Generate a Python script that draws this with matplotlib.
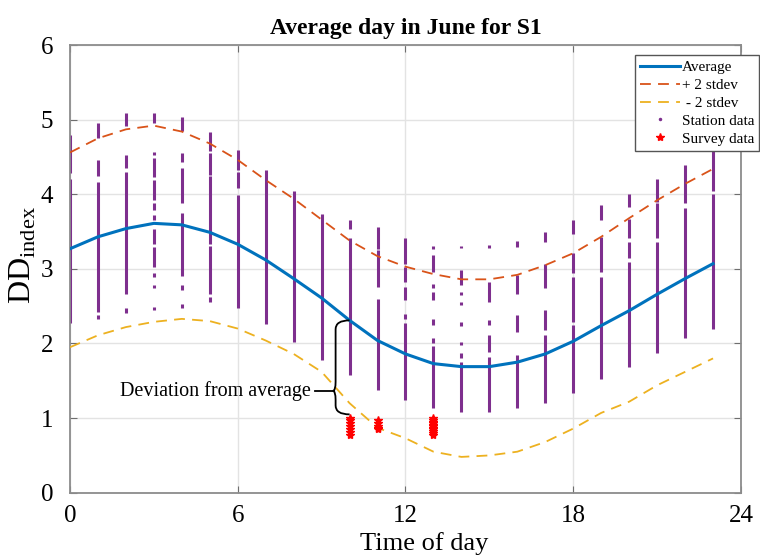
import numpy as np
import matplotlib
matplotlib.use("Agg")
import matplotlib.pyplot as plt
from matplotlib.lines import Line2D
from matplotlib.path import Path
from matplotlib.patches import PathPatch

plt.rcParams['font.family'] = ['Liberation Serif', 'DejaVu Serif']
plt.rcParams['mathtext.fontset'] = 'custom'
plt.rcParams['mathtext.rm'] = 'Liberation Serif'

hours = np.arange(24)
average = [3.27, 3.43, 3.54, 3.61, 3.59, 3.49, 3.33, 3.12, 2.87, 2.61, 2.31, 2.04,
           1.86, 1.73, 1.69, 1.69, 1.75, 1.86, 2.03, 2.24, 2.44, 2.66, 2.87, 3.07]
plus2 = [4.56, 4.75, 4.87, 4.92, 4.84, 4.68, 4.46, 4.19, 3.94, 3.66, 3.38, 3.17,
         3.03, 2.93, 2.86, 2.86, 2.92, 3.05, 3.21, 3.43, 3.68, 3.92, 4.14, 4.34]
minus2 = [1.95, 2.11, 2.22, 2.29, 2.33, 2.30, 2.20, 2.04, 1.86, 1.62, 1.20, 0.87,
          0.73, 0.55, 0.48, 0.50, 0.55, 0.68, 0.86, 1.07, 1.22, 1.44, 1.62, 1.80]

# station data per hour as (low, high) runs of points
station = [
    [(2.27, 4.20), (4.28, 4.79)],
    [(2.33, 2.38), (2.42, 4.16), (4.25, 4.46), (4.75, 4.96)],
    [(2.41, 2.47), (2.67, 4.30), (4.35, 4.53), (4.91, 5.09)],
    [(2.45, 2.49), (2.74, 2.78), (2.89, 2.94), (3.03, 3.29), (3.34, 3.54), (3.65, 3.72),
     (3.79, 3.88), (3.92, 4.19), (4.23, 4.48), (4.52, 4.57), (4.95, 5.09)],
    [(2.47, 2.53), (2.72, 2.78), (2.90, 3.75), (3.88, 4.35), (4.43, 4.55), (4.85, 5.03)],
    [(2.55, 2.62), (2.67, 3.31), (3.33, 4.24), (4.26, 4.55), (4.58, 4.84)],
    [(2.47, 3.99), (4.08, 4.30), (4.32, 4.59)],
    [(2.26, 4.32)],
    [(2.02, 4.04)],
    [(1.78, 3.74)],
    [(1.58, 3.41), (3.54, 3.65)],
    [(1.38, 2.60), (2.76, 3.25), (3.27, 3.56)],
    [(1.24, 2.27), (2.33, 2.40), (2.58, 2.76), (2.83, 3.03), (3.07, 3.41)],
    [(1.13, 1.96), (2.00, 2.07), (2.25, 2.33), (2.58, 2.69), (2.74, 2.80), (2.96, 3.19), (3.27, 3.31)],
    [(1.08, 1.75), (1.80, 1.87), (1.98, 2.02), (2.23, 2.29), (2.51, 2.56), (2.65, 2.69),
     (2.78, 2.98), (3.28, 3.31)],
    [(1.08, 1.82), (1.89, 2.11), (2.25, 2.31), (2.56, 2.83), (3.28, 3.32)],
    [(1.13, 1.84), (2.16, 2.38), (2.67, 2.92), (3.29, 3.38)],
    [(1.20, 2.11), (2.18, 2.45), (2.75, 3.07), (3.36, 3.50)],
    [(1.34, 2.25), (2.29, 2.89), (2.94, 3.21), (3.47, 3.65)],
    [(1.53, 2.89), (2.96, 3.43), (3.65, 3.85)],
    [(1.69, 3.09), (3.14, 3.36), (3.41, 3.67), (3.83, 4.01)],
    [(1.87, 3.36), (3.41, 3.88), (3.90, 4.21)],
    [(2.07, 3.81), (3.88, 4.39)],
    [(2.20, 4.00), (4.05, 4.70)],
]

survey_hours = [10] * 7 + [11] * 5 + [13] * 11
survey_vals = [1.00, 0.97, 0.93, 0.90, 0.86, 0.82, 0.78,
               0.97, 0.93, 0.90, 0.87, 0.85,
               1.00, 0.97, 0.95, 0.93, 0.91, 0.89, 0.87, 0.85, 0.83, 0.80, 0.77]

c_avg, c_up, c_lo, c_st = '#0072BD', '#D95319', '#EDB120', '#7E2F8E'

fig = plt.figure(figsize=(7.6, 5.56), dpi=100)
ax = fig.add_axes([0.0921, 0.1138, 0.8829, 0.8052])

for h, runs in zip(hours, station):
    for lo, hi in runs:
        ax.vlines(h, lo, hi, colors=c_st, lw=2.2, zorder=2)

ax.plot(hours, average, color=c_avg, lw=2.2, zorder=3)
ax.plot(hours, plus2, color=c_up, lw=1.3, dashes=(6, 4), zorder=3)
ax.plot(hours, minus2, color=c_lo, lw=1.3, dashes=(6, 4), zorder=3)
ax.plot(survey_hours, survey_vals, ls='none', marker='*', color='red', ms=6, zorder=4)

# curly brace showing the deviation at hour 10
ytop = average[10]
ybot = max(v for h, v in zip(survey_hours, survey_vals) if h == 10) + 0.05
ymid = ybot + 0.25 * (ytop - ybot)
xh = 10
xv = xh - 0.5
r = 0.12
verts = [(xh, ytop), (xv, ytop), (xv, ytop - r), (xv, ytop - r),
         (xv, ymid + r), (xv, ymid), (xv - 0.1, ymid),
         (xv, ymid), (xv, ymid - r), (xv, ymid - r),
         (xv, ybot + r), (xv, ybot), (xh, ybot)]
codes = [Path.MOVETO, Path.CURVE3, Path.CURVE3, Path.LINETO,
         Path.LINETO, Path.CURVE3, Path.CURVE3,
         Path.CURVE3, Path.CURVE3, Path.LINETO,
         Path.LINETO, Path.CURVE3, Path.CURVE3]
ax.add_patch(PathPatch(Path(verts, codes), fill=False, lw=1.3, color='black', zorder=5))
ax.plot([xv - 0.1, xv - 0.75], [ymid, ymid], color='black', lw=1.3, zorder=5)
ax.text(xv - 0.9, ymid, 'Deviation from average', ha='right', va='center', fontsize=14.5)

ax.set_xlim(0, 24)
ax.set_ylim(0, 6)
ax.set_xticks([0, 6, 12, 18, 24])
ax.set_yticks(range(7))
ax.grid(True, color='#e3e3e3', lw=1)
ax.set_axisbelow(True)
for s in ax.spines.values():
    s.set_color('#8c8c8c')
    s.set_linewidth(1.3)
ax.tick_params(direction='in', top=True, right=True, length=5, color='#6e6e6e',
               labelsize=18)
ax.tick_params(axis='x', pad=9)
ax.tick_params(axis='y', pad=12)

ax.set_title('Average day in June for S1', fontsize=17, fontweight='bold', pad=8)
ax.set_xlabel('Time of day', fontsize=19)
ax.xaxis.set_label_coords(0.528, -0.088)
ax.set_ylabel(r'DD$_{\mathrm{index}}$', fontsize=23)
ax.yaxis.set_label_coords(-0.047, 0.53)

handles = [Line2D([], [], color=c_avg, lw=2.2),
           Line2D([], [], color=c_up, lw=1.3, dashes=(6, 4)),
           Line2D([], [], color=c_lo, lw=1.3, dashes=(6, 4)),
           Line2D([], [], ls='none', marker='.', ms=3, color=c_st),
           Line2D([], [], ls='none', marker='*', ms=6, color='red')]
labels = ['Average', '+ 2 stdev', ' - 2 stdev', 'Station data', 'Survey data']
leg = ax.legend(handles, labels, loc='upper left', bbox_to_anchor=(0.842, 0.978),
                fontsize=11, labelspacing=0.28, handlelength=2.6, handletextpad=0.1,
                borderpad=0.35, borderaxespad=0, fancybox=False, framealpha=1)
leg.get_frame().set_edgecolor('#555555')
leg.get_frame().set_linewidth(1.0)

fig.savefig('out.png', dpi=100)
